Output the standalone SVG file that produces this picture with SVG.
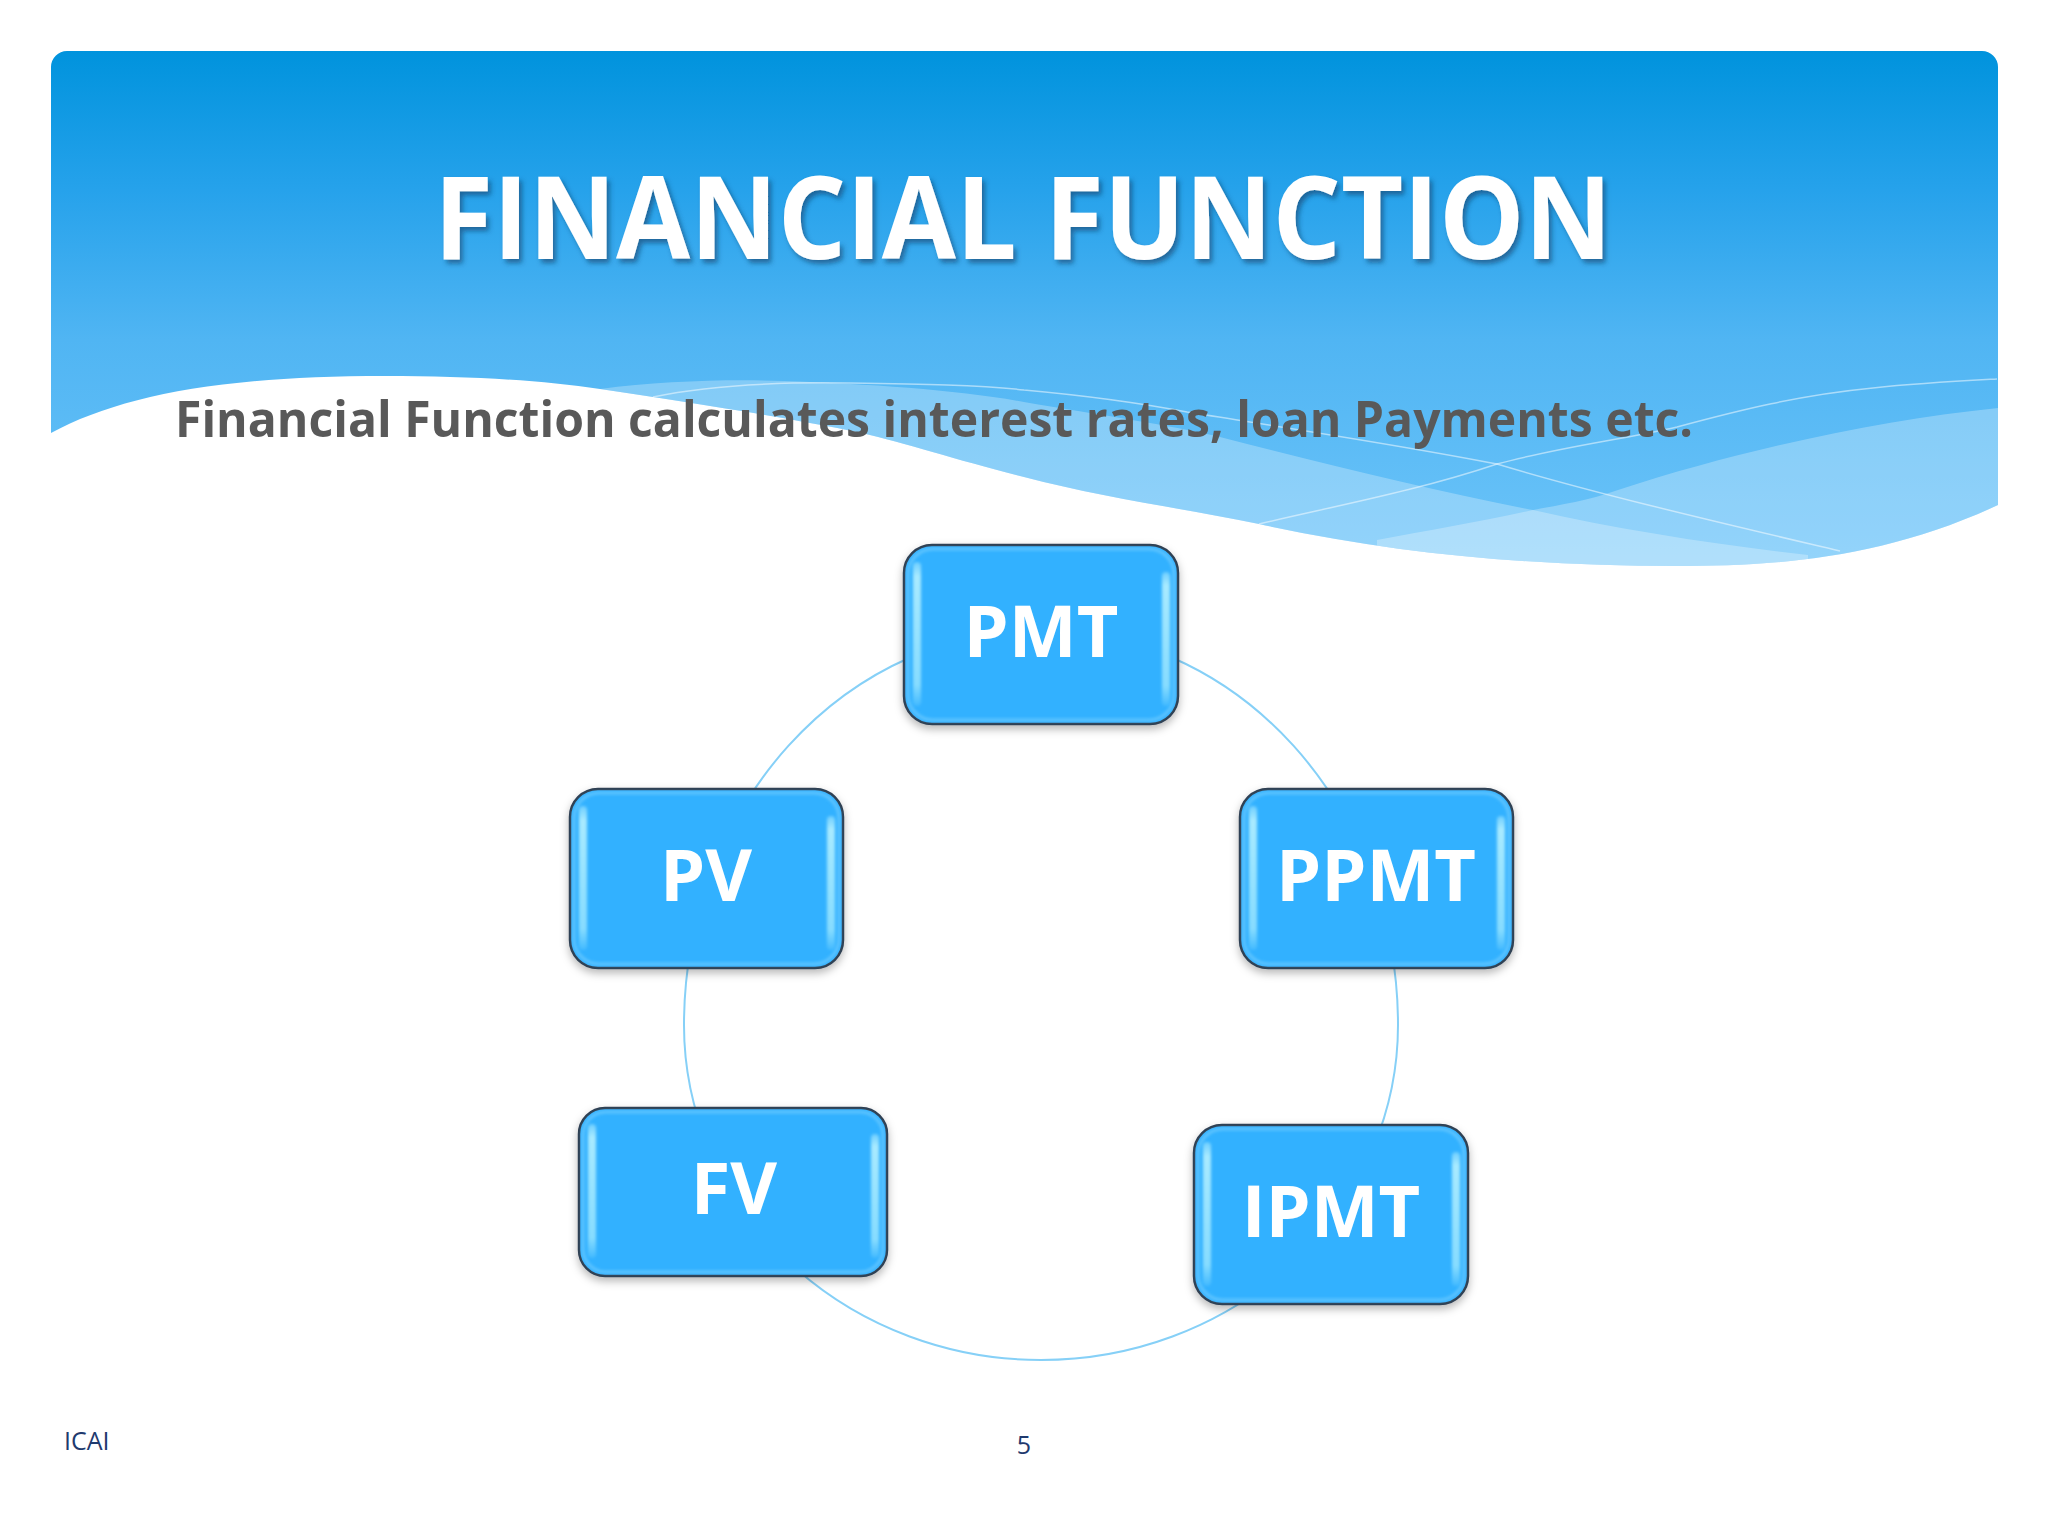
<svg xmlns="http://www.w3.org/2000/svg" width="2048" height="1536" viewBox="0 0 2048 1536">
<style>
.lbl{font-family:"Open Sans","Noto Sans",sans-serif;font-weight:700;fill:#fff;font-size:72px}
.box{fill:#33b1ff;stroke:#2f3f52;stroke-width:2.5;filter:url(#sh)}
.rim{fill:none;stroke:#7dd2ff;stroke-width:3;opacity:.6;filter:url(#soft)}
.hl{fill:url(#hlg);filter:url(#soft)}
.edge{fill:#fff;opacity:.27}
.thread{fill:none;stroke:#fff;stroke-width:1.5;opacity:.5}
.foot{font-family:"Open Sans","Noto Sans",sans-serif;font-size:25px;fill:#1f3a6e}
</style>
<defs>
<linearGradient id="hdr" gradientUnits="userSpaceOnUse" x1="0" y1="51" x2="0" y2="566"><stop offset="0" stop-color="#0093dd"/><stop offset=".27" stop-color="#26a2eb"/><stop offset=".56" stop-color="#50b5f3"/><stop offset="1" stop-color="#6cc4f9"/></linearGradient>
<linearGradient id="hlg" x1="0" y1="0" x2="0" y2="1"><stop offset="0" stop-color="#a8eaff" stop-opacity=".5"/><stop offset=".1" stop-color="#a8eaff"/><stop offset=".85" stop-color="#86dcff"/><stop offset="1" stop-color="#86dcff" stop-opacity=".2"/></linearGradient>
<filter id="sh" x="-10%" y="-10%" width="120%" height="125%"><feDropShadow dx="0" dy="4" stdDeviation="4" flood-color="#000" flood-opacity=".28"/></filter>
<filter id="soft" x="-50%" y="-10%" width="200%" height="120%"><feGaussianBlur stdDeviation="1.4"/></filter>
<filter id="ts" x="-5%" y="-20%" width="110%" height="140%"><feDropShadow dx="3" dy="4" stdDeviation="2.5" flood-color="#0a3a66" flood-opacity=".6"/></filter>
<clipPath id="bandclip"><path d="M51 433C120 396 220 376 385 376C470 376 540 380 600 389C700 404 790 418 862 433C905 443 960 461 1024 477C1100 497 1180 508 1259 524C1400 555 1540 566 1677 566C1770 566 1880 560 1998 505V51H51Z"/></clipPath>
</defs>
<rect width="2048" height="1536" fill="#fff"/>
<g id="header">
<path id="band" fill="url(#hdr)" d="M51 433C120 396 220 376 385 376C470 376 540 380 600 389C700 404 790 418 862 433C905 443 960 461 1024 477C1100 497 1180 508 1259 524C1400 555 1540 566 1677 566C1770 566 1880 560 1998 505V67a16 16 0 0 0-16-16H67a16 16 0 0 0-16 16Z"/>
<g clip-path="url(#bandclip)">
<path class="edge" d="M600 389C660 381 730 379 784 381C870 384 960 390 1024 402C1100 415 1170 425 1220 437C1330 465 1430 490 1533 510C1620 530 1720 545 1808 555L1808 640H600Z"/>
<path class="edge" d="M1377 540C1430 530 1480 522 1533 510C1560 505 1590 500 1618 490C1740 450 1880 420 1998 408V640H1377Z"/>
<path class="thread" d="M653 397C710 385 780 382 849 383C920 384 980 385 1024 390C1090 396 1140 403 1187 412C1300 430 1400 445 1497 464C1600 495 1730 525 1840 551"/>
<path class="thread" d="M1259 524C1340 505 1420 490 1497 464C1560 447 1620 440 1677 427C1740 410 1800 395 1873 388C1920 383 1960 381 1997 379"/>
</g>
</g>
<text id="title" x="1023" y="259" text-anchor="middle" font-family="'Open Sans','Noto Sans',sans-serif" font-weight="700" font-size="114" fill="#fff" filter="url(#ts)" textLength="1178" lengthAdjust="spacingAndGlyphs">FINANCIAL FUNCTION</text>
<text id="subtitle" x="175" y="437" font-family="'Open Sans','Noto Sans',sans-serif" font-weight="700" font-size="50" fill="#595959" textLength="1518" lengthAdjust="spacingAndGlyphs">Financial Function calculates interest rates, loan Payments etc.</text>
<g id="connectors"><path d="M684 1025A357 395 0 0 1 1398 1025A357 335 0 0 1 684 1025Z" fill="none" stroke="#86d0f7" stroke-width="2"/></g>
<g id="node-pmt"><rect class="box" x="904" y="545" width="274" height="179" rx="28"/><rect class="rim" x="908" y="549" width="266" height="171" rx="25"/><rect class="hl" x="913" y="562" width="8" height="144" rx="4"/><rect class="hl" x="1162" y="572" width="8" height="134" rx="4"/><text class="lbl" x="1041" y="657" text-anchor="middle">PMT</text></g>
<g id="node-ppmt"><rect class="box" x="1240" y="789" width="273" height="179" rx="28"/><rect class="rim" x="1244" y="793" width="265" height="171" rx="25"/><rect class="hl" x="1249" y="806" width="8" height="144" rx="4"/><rect class="hl" x="1497" y="816" width="8" height="134" rx="4"/><text class="lbl" x="1376" y="901" text-anchor="middle">PPMT</text></g>
<g id="node-ipmt"><rect class="box" x="1194" y="1125" width="274" height="179" rx="28"/><rect class="rim" x="1198" y="1129" width="266" height="171" rx="25"/><rect class="hl" x="1203" y="1142" width="8" height="144" rx="4"/><rect class="hl" x="1452" y="1152" width="8" height="134" rx="4"/><text class="lbl" x="1331" y="1237" text-anchor="middle">IPMT</text></g>
<g id="node-fv"><rect class="box" x="579" y="1108" width="308" height="168" rx="26"/><rect class="rim" x="583" y="1112" width="300" height="160" rx="23"/><rect class="hl" x="588" y="1124" width="8" height="134" rx="4"/><rect class="hl" x="871" y="1134" width="8" height="124" rx="4"/><text class="lbl" x="734" y="1214" text-anchor="middle">FV</text></g>
<g id="node-pv"><rect class="box" x="570" y="789" width="273" height="179" rx="28"/><rect class="rim" x="574" y="793" width="265" height="171" rx="25"/><rect class="hl" x="579" y="806" width="8" height="144" rx="4"/><rect class="hl" x="827" y="816" width="8" height="134" rx="4"/><text class="lbl" x="706" y="901" text-anchor="middle">PV</text></g>
<text id="footer-left" class="foot" x="64" y="1450">ICAI</text>
<text id="page" class="foot" x="1024" y="1454" text-anchor="middle">5</text>
</svg>
